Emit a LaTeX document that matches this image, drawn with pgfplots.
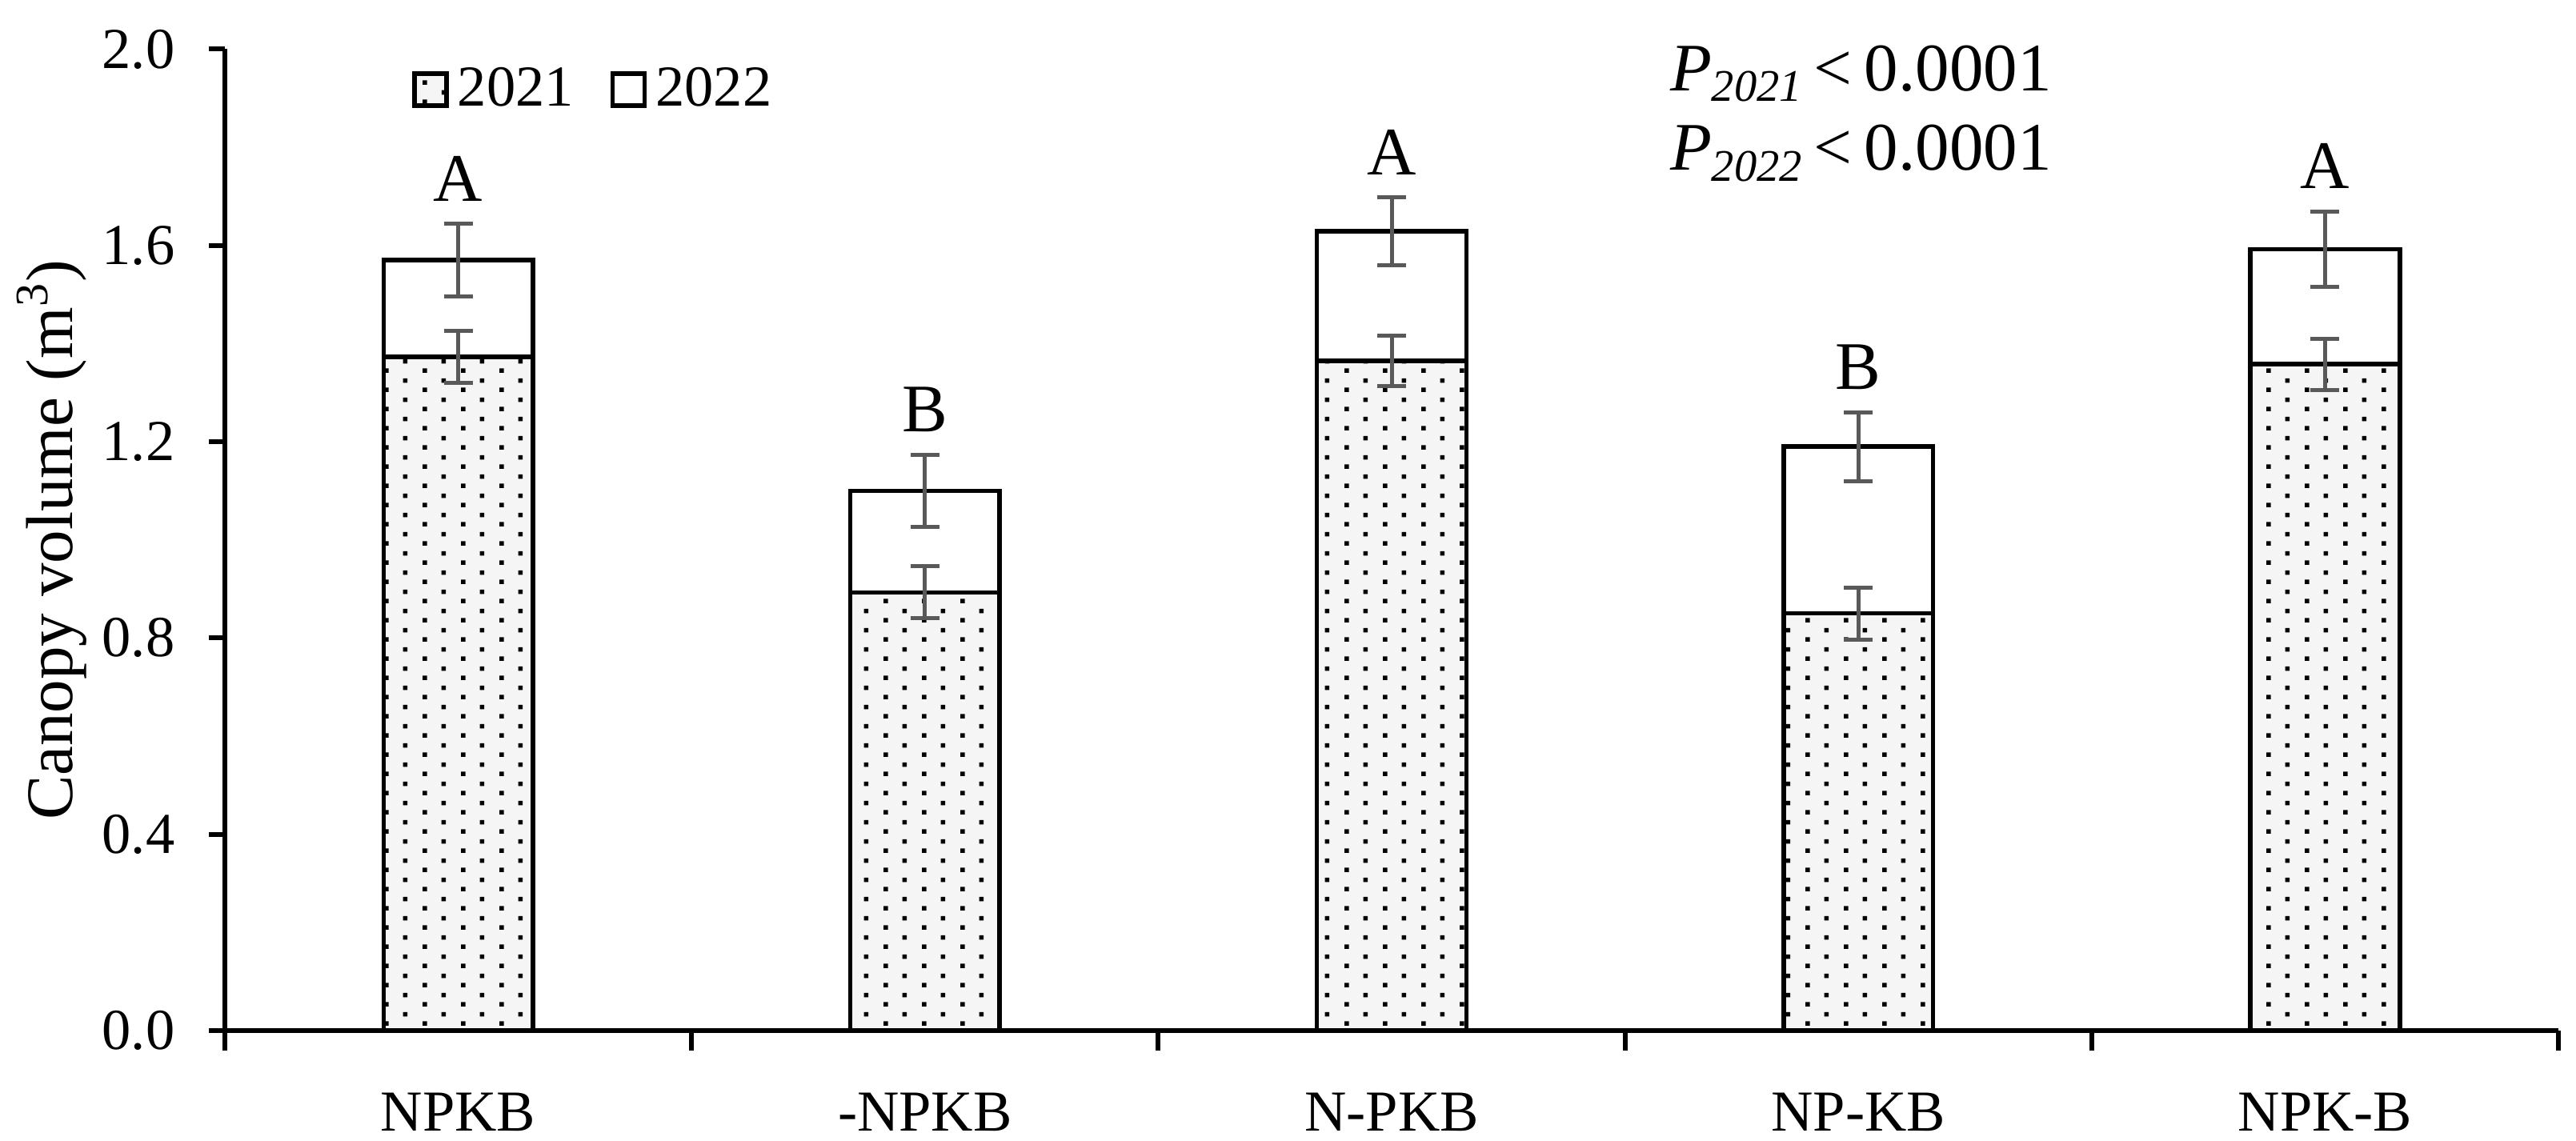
\documentclass[border=0pt]{standalone}
\usepackage{fontspec}
\setmainfont{Liberation Serif}
\usepackage{pgfplots}
\pgfplotsset{compat=1.18}
\usepackage{pgfplotstable}
\usetikzlibrary{patterns}

% sparse dot fill used for the 2021 bars
\pgfdeclarepatternformonly{sparsedots}{\pgfpointorigin}{\pgfpoint{9.6pt}{4.8pt}}{\pgfpoint{9.6pt}{4.8pt}}{%
  \pgfpathrectangle{\pgfpoint{0pt}{0pt}}{\pgfpoint{1.15pt}{1.15pt}}%
  \pgfpathrectangle{\pgfpoint{4.8pt}{2.4pt}}{\pgfpoint{1.15pt}{1.15pt}}%
  \pgfusepath{fill}}

\definecolor{errgray}{RGB}{89,89,89}
\newcommand\fs[1]{\fontsize{#1}{#1}\selectfont}

% 2021
\pgfplotstableread{
x y e
0 1.373 0.053
1 0.893 0.053
2 1.365 0.052
3 0.850 0.053
4 1.358 0.052
}\dataA
% 2022
\pgfplotstableread{
x y e
0 1.570 0.074
1 1.100 0.074
2 1.629 0.069
3 1.190 0.070
4 1.592 0.077
}\dataB

\begin{document}
\begin{tikzpicture}
\begin{axis}[
    scale only axis, width=583.2pt, height=245.3pt,
    ybar, bar width=0.32,
    xmin=-0.5, xmax=4.5, ymin=0, ymax=2,
    axis lines*=left,
    axis line style={line width=1.2pt},
    tick align=outside,
    xtick={0,1,2,3,4},
    xticklabels={NPKB,-NPKB,N-PKB,NP-KB,NPK-B},
    major x tick style={draw=none},
    minor xtick={-0.5,0.5,1.5,2.5,3.5,4.5},
    minor tick length=5pt,
    major tick length=4pt,
    tick style={black, line width=1.2pt},
    ytick={0,0.4,0.8,1.2,1.6,2.0},
    ticklabel style={font=\fs{14.5}},
    yticklabel style={xshift=-5pt, /pgf/number format/.cd, fixed, fixed zerofill, precision=1, assume math mode=true},
    xticklabel style={yshift=-8pt},
    ylabel={Canopy volume (m\textsuperscript{3})},
    every axis y label/.style={at={(axis description cs:-0.0742,0.5)}, rotate=90, anchor=center, font=\fs{16.6}},
    legend style={draw=none, fill=none, at={(axis description cs:0.08,0.959)}, anchor=west,
        legend columns=2, font=\fs{14.5}, inner sep=0pt,
        nodes={inner xsep=2.2pt},
        /tikz/every even column/.append style={column sep=7pt}},
    legend image code/.code={\draw[#1] (0pt,-4pt) rectangle (8pt,4pt);},
    clip=false,
]
\addlegendimage{fill=black!4, postaction={pattern=sparsedots}, draw=black, line width=1.1pt}
\addlegendentry{2021}
\addlegendimage{fill=white, draw=black, line width=1.1pt}
\addlegendentry{2022}

\addplot[forget plot, bar shift=0pt, fill=white, draw=black, line width=1.1pt,
    error bars/.cd, y dir=both, y explicit,
    error bar style={errgray, line width=1pt},
    error mark options={rotate=90, mark size=3.6pt, errgray, line width=1pt}]
    table[x=x, y=y, y error=e] {\dataB};
\addplot[forget plot, bar shift=0pt, fill=black!4, postaction={pattern=sparsedots}, draw=black, line width=1.1pt,
    error bars/.cd, y dir=both, y explicit,
    error bar style={errgray, line width=1pt},
    error mark options={rotate=90, mark size=3.6pt, errgray, line width=1pt}]
    table[x=x, y=y, y error=e] {\dataA};

\node[font=\fs{17}, anchor=base, yshift=5.7pt] at (axis cs:0,1.644) {A};
\node[font=\fs{17}, anchor=base, yshift=5.7pt] at (axis cs:1,1.174) {B};
\node[font=\fs{17}, anchor=base, yshift=5.7pt] at (axis cs:2,1.698) {A};
\node[font=\fs{17}, anchor=base, yshift=5.7pt] at (axis cs:3,1.260) {B};
\node[font=\fs{17}, anchor=base, yshift=5.7pt] at (axis cs:4,1.669) {A};

\node[font=\fs{17}, anchor=base west, inner sep=0pt] at (axis description cs:0.619,0.9576)
    {\textit{P}\raisebox{-2.7pt}{\fs{11.3}\textit{2021}}\hspace{3pt}<\hspace{3pt}0.0001};
\node[font=\fs{17}, anchor=base west, inner sep=0pt] at (axis description cs:0.619,0.8766)
    {\textit{P}\raisebox{-2.7pt}{\fs{11.3}\textit{2022}}\hspace{3pt}<\hspace{3pt}0.0001};
\end{axis}
\pgfresetboundingbox
\path[use as bounding box] ([xshift=-56.2pt,yshift=-27.6pt]current axis.south west)
    rectangle ([xshift=4.4pt,yshift=12.3pt]current axis.north east);
\end{tikzpicture}
\end{document}
